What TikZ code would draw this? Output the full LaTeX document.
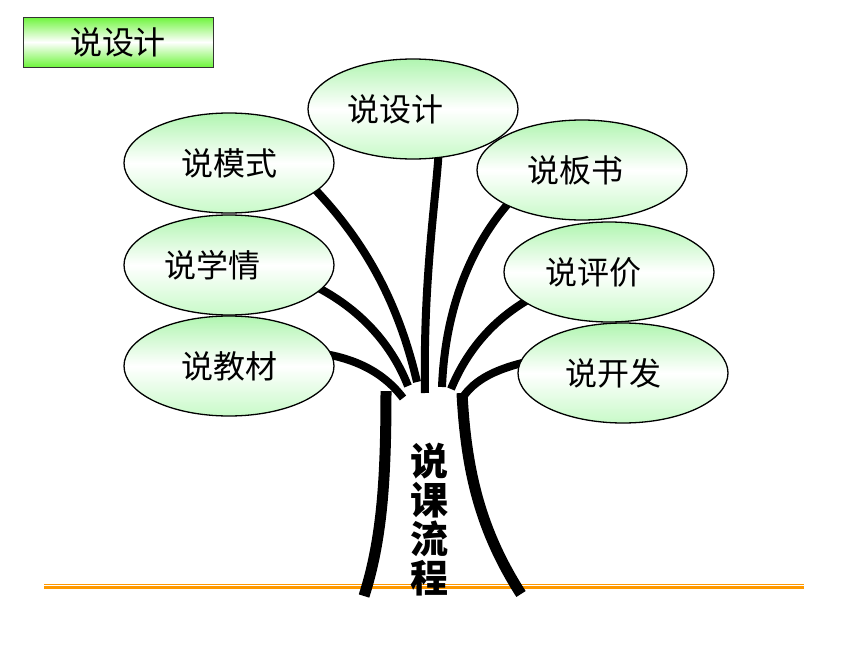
\documentclass[tikz,border=0pt]{standalone}
\usepackage{fontspec}
\newfontfamily\cjk{Noto Sans CJK SC}
\usetikzlibrary{shapes.geometric,calc}
\pgfdeclarelayer{bg}
\pgfsetlayers{bg,main}
\definecolor{ellgreen}{RGB}{176,245,176}
\definecolor{ellgreenb}{RGB}{200,250,200}
\definecolor{boxgreen}{RGB}{110,245,60}
\definecolor{lineorange}{RGB}{255,153,0}
\begin{document}
\begin{tikzpicture}[x=1pt,y=-1pt,
  bubble/.style={ellipse, draw=black, line width=1.3pt, minimum width=210pt, minimum height=100pt, inner sep=0pt,
    top color=ellgreen, bottom color=ellgreenb, middle color=white, font=\cjk\fontsize{32}{36}\selectfont},
  branch/.style={line width=8pt, line cap=butt},
  trunkline/.style={line width=11pt, line cap=butt},
  titlebox/.style={rectangle, draw=black!80, line width=1pt, minimum width=190pt, minimum height=50pt, inner sep=0pt,
    top color=boxgreen, bottom color=boxgreen, middle color=white, font=\cjk\fontsize{32}{36}\selectfont},
  trunktext/.style={align=center, inner sep=0pt, font=\cjk\bfseries\fontsize{38}{39}\selectfont}]
\useasboundingbox (0,0) rectangle (860,645);

% ground line
\draw[lineorange, line width=1.3pt] (44,584.2) -- (804,584.2);
\draw[lineorange, line width=3.2pt] (44,587.6) -- (804,587.6);

% title
\node[titlebox] (title) at (118,42) {说设计};

% bubbles
\node[bubble] (des)  at (413,109) {\kern-18pt 说设计\kern18pt};
\node[bubble] (mos)  at (229,163) {说模式};
\node[bubble] (xue)  at (229,265) {\kern-17pt 说学情\kern17pt};
\node[bubble] (jiao) at (229,366) {说教材};
\node[bubble] (ban)  at (582,170) {\kern-7pt 说板书\kern7pt};
\node[bubble] (ping) at (609,272) {\kern-16pt 说评价\kern16pt};
\node[bubble] (kai)  at (623,373) {\kern-10pt 说开发\kern10pt};

% junction points on top of trunk
\coordinate (j1) at (417,382);
\coordinate (j2) at (425,393);
\coordinate (j3) at (408,386);
\coordinate (j4) at (403,398);
\coordinate (j5) at (442,387);
\coordinate (j6) at (451,389);
\coordinate (j7) at (463,397);
\coordinate (tl) at (386,391);
\coordinate (bl) at (364,596);
\coordinate (tr) at (462,393);
\coordinate (br) at (521,594);

\begin{pgfonlayer}{bg}
\draw[branch] ($(mos.center)!0.85!(mos.-14)$) .. controls (370,245) and (400,310) .. (j1);
\draw[branch] ($(des.center)!0.85!(des.-58)$) .. controls (436,200) and (423,280) .. (j2);
\draw[branch] ($(xue.center)!0.85!(xue.-13)$) .. controls (355,305) and (390,340) .. (j3);
\draw[branch] ($(jiao.center)!0.85!(jiao.9)$) .. controls (362,358) and (388,378) .. (j4);
\draw[branch] ($(ban.center)!0.85!(ban.-158)$) .. controls (470,245) and (445,310) .. (j5);
\draw[branch] ($(ping.center)!0.85!(ping.-162)$) .. controls (490,320) and (465,355) .. (j6);
\draw[branch] ($(kai.center)!0.85!(kai.171)$) .. controls (495,368) and (475,380) .. (j7);
\end{pgfonlayer}

% trunk
\draw[trunkline] (tl) .. controls (386,480) and (382,540) .. (bl);
\draw[trunkline] (tr) .. controls (466,470) and (480,530) .. (br);

\node[trunktext] (trunk) at (429,520) {说\\课\\流\\程};
\end{tikzpicture}
\end{document}
